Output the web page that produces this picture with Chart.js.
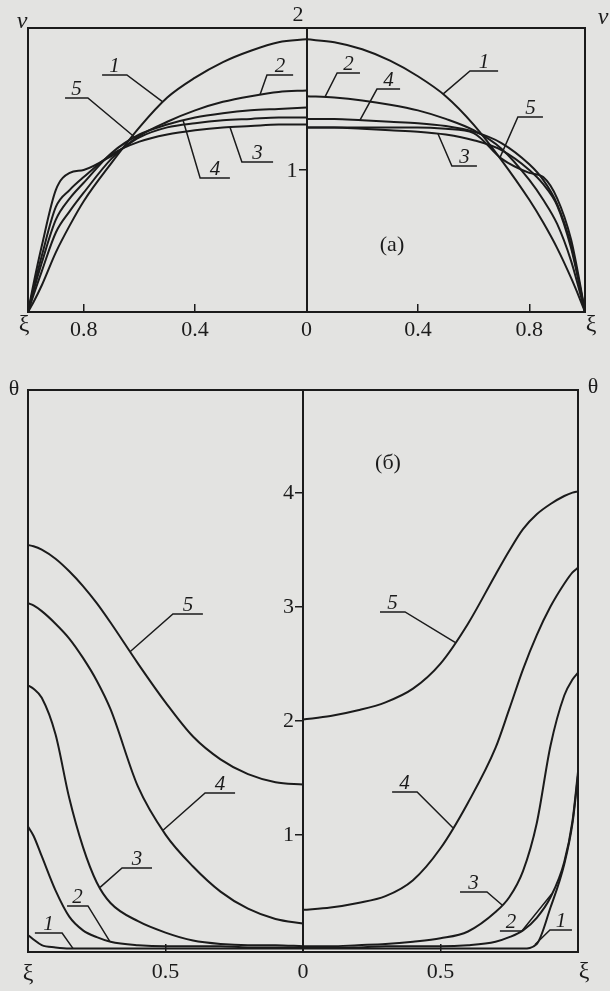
<!DOCTYPE html>
<html>
<head>
<meta charset="utf-8">
<script src="https://cdn.jsdelivr.net/npm/chart.js"></script>
<style>
  html, body { margin: 0; padding: 0; background: #e3e3e1; }
  #wrap { position: relative; width: 610px; height: 991px; overflow: hidden; }
  canvas { position: absolute; left: 0; }
  #chartA { top: 0; }
  #chartB { top: 345px; }
</style>
</head>
<body>
<div id="wrap">
  <canvas id="chartA" width="610" height="345"></canvas>
  <canvas id="chartB" width="610" height="646"></canvas>
</div>
<script>
const ink = '#1b1b1b';
const serif = '"Liberation Serif", "DejaVu Serif", serif';

// (a) profiles v(xi), left half (L) and right half (R) of the channel
const xiA = [0, 0.1, 0.2, 0.3, 0.4, 0.5, 0.6, 0.7, 0.8, 0.85, 0.9, 0.95, 0.98, 1];
const vL1 = [1.92, 1.90, 1.84, 1.76, 1.65, 1.51, 1.30, 1.05, 0.78, 0.61, 0.42, 0.19, 0.07, 0];
const vL2 = [1.56, 1.55, 1.52, 1.48, 1.42, 1.34, 1.24, 1.08, 0.84, 0.71, 0.56, 0.29, 0.12, 0];
const vL3 = [1.32, 1.32, 1.31, 1.30, 1.28, 1.25, 1.20, 1.11, 0.95, 0.86, 0.74, 0.40, 0.17, 0];
const vL4 = [1.44, 1.43, 1.42, 1.40, 1.37, 1.32, 1.25, 1.12, 0.91, 0.80, 0.65, 0.35, 0.15, 0];
const vL5 = [1.37, 1.37, 1.36, 1.35, 1.33, 1.30, 1.23, 1.10, 1.00, 0.98, 0.86, 0.47, 0.20, 0];
const vR1 = [1.92, 1.90, 1.85, 1.77, 1.66, 1.52, 1.32, 1.07, 0.79, 0.63, 0.45, 0.24, 0.10, 0];
const vR2 = [1.52, 1.51, 1.49, 1.46, 1.42, 1.36, 1.28, 1.15, 0.93, 0.79, 0.62, 0.36, 0.15, 0];
const vR3 = [1.30, 1.30, 1.29, 1.28, 1.27, 1.25, 1.21, 1.14, 1.00, 0.90, 0.75, 0.45, 0.19, 0];
const vR4 = [1.36, 1.36, 1.35, 1.34, 1.33, 1.31, 1.27, 1.19, 1.04, 0.93, 0.76, 0.47, 0.20, 0];
const vR5 = [1.30, 1.30, 1.30, 1.30, 1.30, 1.29, 1.26, 1.08, 0.98, 0.95, 0.80, 0.51, 0.22, 0];
const xiTicksA = [-0.8, -0.4, 0, 0.4, 0.8];
const vTicks = [1];

// (б) profiles theta(xi)
const xiB = [0, 0.1, 0.2, 0.3, 0.4, 0.5, 0.6, 0.7, 0.75, 0.8, 0.85, 0.9, 0.95, 0.98, 1];
const thL1 = [0, 0, 0, 0, 0, 0, 0, 0, 0, 0, 0, 0.01, 0.03, 0.08, 0.12];
const thL2 = [0.01, 0.01, 0.01, 0.02, 0.02, 0.02, 0.03, 0.06, 0.10, 0.16, 0.28, 0.51, 0.81, 0.99, 1.07];
const thL3 = [0.02, 0.03, 0.03, 0.04, 0.07, 0.14, 0.24, 0.40, 0.58, 0.89, 1.32, 1.88, 2.20, 2.28, 2.31];
const thL4 = [0.22, 0.26, 0.35, 0.50, 0.72, 1.00, 1.42, 2.10, 2.35, 2.55, 2.72, 2.85, 2.96, 3.01, 3.03];
const thL5 = [1.44, 1.46, 1.53, 1.66, 1.86, 2.16, 2.50, 2.86, 3.03, 3.18, 3.31, 3.42, 3.50, 3.53, 3.54];
const thR1 = [0, 0, 0, 0, 0, 0, 0, 0, 0, 0, 0.04, 0.36, 0.74, 1.10, 1.52];
const thR2 = [0.01, 0.01, 0.01, 0.02, 0.02, 0.02, 0.03, 0.06, 0.10, 0.16, 0.27, 0.45, 0.76, 1.12, 1.55];
const thR3 = [0.02, 0.02, 0.03, 0.04, 0.06, 0.09, 0.15, 0.32, 0.45, 0.68, 1.10, 1.78, 2.22, 2.36, 2.42];
const thR4 = [0.34, 0.36, 0.40, 0.46, 0.60, 0.88, 1.28, 1.76, 2.10, 2.45, 2.75, 3.00, 3.20, 3.30, 3.34];
const thR5 = [2.01, 2.04, 2.09, 2.16, 2.28, 2.50, 2.85, 3.28, 3.49, 3.68, 3.81, 3.90, 3.97, 4.00, 4.01];
const xiTicksB = [-0.5, 0, 0.5];
const thTicks = [1, 2, 3, 4];

// curve labels: text, xi where leader starts, xi of other end of the bar, bar height, xi on curve, curve
const labelsA = [
  ['1', -0.645, -0.734, 1.669, -0.515, 'L1'],
  ['5', -0.785, -0.867, 1.507, -0.609, 'L5'],
  ['2', -0.142, -0.048, 1.669, -0.167, 'L2'],
  ['4', -0.382, -0.275, 0.944, -0.443, 'L4'],
  ['3', -0.232, -0.120, 1.056, -0.275, 'L3'],
  ['2', 0.110, 0.192, 1.683, 0.066, 'R2'],
  ['4', 0.253, 0.336, 1.570, 0.192, 'R4'],
  ['1', 0.587, 0.688, 1.697, 0.490, 'R1'],
  ['5', 0.759, 0.849, 1.373, 0.695, 'R5'],
  ['3', 0.522, 0.612, 1.028, 0.472, 'R3']
];
const labelsB = [
  ['5', -0.473, -0.364, 2.935, -0.629, 'L5'],
  ['4', -0.356, -0.247, 1.365, -0.509, 'L4'],
  ['3', -0.658, -0.549, 0.707, -0.738, 'L3'],
  ['2', -0.782, -0.858, 0.374, -0.702, 'L2'],
  ['1', -0.876, -0.975, 0.137, -0.836, 'L1'],
  ['5', 0.371, 0.280, 2.953, 0.553, 'R5'],
  ['4', 0.415, 0.324, 1.374, 0.545, 'R4'],
  ['3', 0.669, 0.571, 0.497, 0.724, 'R3'],
  ['2', 0.796, 0.716, 0.154, 0.905, 'R2'],
  ['1', 0.898, 0.978, 0.163, 0.844, 'R1']
];

function pts(grid, vals, sign) {
  return grid.map((g, i) => ({ x: sign * g, y: vals[i] }));
}

function interp(grid, vals, x) {
  const a = Math.abs(x);
  for (let i = 1; i < grid.length; i++) {
    if (a <= grid[i]) {
      const t = (a - grid[i - 1]) / (grid[i] - grid[i - 1]);
      return vals[i - 1] + t * (vals[i] - vals[i - 1]);
    }
  }
  return vals[vals.length - 1];
}

const decor = {
  id: 'decor',
  afterDatasetsDraw(chart, args, o) {
    const { ctx, chartArea: a, scales: { x, y } } = chart;
    ctx.save();
    ctx.strokeStyle = ink;
    ctx.fillStyle = ink;
    ctx.lineWidth = 2;
    ctx.strokeRect(a.left, a.top, a.right - a.left, a.bottom - a.top);

    // labels for the y ticks, left of the centre axis
    const ax = x.getPixelForValue(0);
    ctx.font = '22px ' + serif;
    ctx.textAlign = 'right';
    ctx.textBaseline = 'middle';
    y.ticks.forEach(t => ctx.fillText(String(t.value), ax - 9, y.getPixelForValue(t.value) + 1));

    // labels with leaders
    ctx.lineWidth = 1.5;
    ctx.font = 'italic 21px ' + serif;
    ctx.textAlign = 'center';
    ctx.textBaseline = 'alphabetic';
    o.labels.forEach(([t, xa, xb, yl, xt, key]) => {
      const p1 = x.getPixelForValue(xa);
      const p2 = x.getPixelForValue(xb);
      const py = y.getPixelForValue(yl);
      const tx = x.getPixelForValue(xt);
      const ty = y.getPixelForValue(interp(o.grid, o.curves[key], xt));
      ctx.beginPath();
      ctx.moveTo(p2, py);
      ctx.lineTo(p1, py);
      ctx.lineTo(tx, ty);
      ctx.stroke();
      ctx.fillText(t, (p1 + p2) / 2, py - 3);
    });

    // panel mark, placed in data units
    ctx.font = '22px ' + serif;
    ctx.textBaseline = 'middle';
    ctx.fillText(o.mark[0], x.getPixelForValue(o.mark[1]), y.getPixelForValue(o.mark[2]));

    // axis letters, pixel offsets
    o.texts.forEach(([t, px, py, font]) => {
      ctx.font = font;
      ctx.fillText(t, px, py);
    });
    ctx.restore();
  }
};

function makeChart(id, grid, curves, cfg) {
  const datasets = Object.keys(curves).map(k => ({
    label: k,
    data: pts(grid, curves[k], k[0] === 'L' ? -1 : 1),
    borderColor: ink,
    borderWidth: 2,
    pointRadius: 0,
    fill: false,
    cubicInterpolationMode: 'monotone'
  }));
  return new Chart(document.getElementById(id), {
    type: 'line',
    data: { datasets },
    plugins: [decor],
    options: {
      responsive: false,
      animation: false,
      layout: { padding: cfg.pad },
      plugins: {
        legend: { display: false },
        tooltip: { enabled: false },
        decor: { labels: cfg.labels, grid, curves, mark: cfg.mark, texts: cfg.texts }
      },
      scales: {
        x: {
          type: 'linear', min: -1, max: 1,
          afterBuildTicks: s => { s.ticks = cfg.xTicks.map(v => ({ value: v })); },
          afterFit: s => { s.height = cfg.xh; },
          grid: { drawOnChartArea: false, drawTicks: true, tickLength: -8, color: ink, lineWidth: 1.5 },
          border: { color: ink, width: 2 },
          ticks: {
            color: ink, font: { family: serif, size: 22 }, padding: cfg.xpad,
            maxRotation: 0, autoSkip: false,
            callback: v => String(Math.abs(v))
          }
        },
        y: {
          type: 'linear', min: cfg.yMin, max: cfg.yMax, position: { x: 0 },
          afterBuildTicks: s => { s.ticks = cfg.yTicks.map(v => ({ value: v })); },
          grid: { drawOnChartArea: false, tickLength: 7, color: ink, lineWidth: 1.5 },
          border: { color: ink, width: 2 },
          ticks: { display: false }
        }
      }
    }
  });
}

makeChart('chartA', xiA,
  { L1: vL1, L2: vL2, L3: vL3, L4: vL4, L5: vL5, R1: vR1, R2: vR2, R3: vR3, R4: vR4, R5: vR5 },
  {
    pad: { top: 28, left: 28, right: 25, bottom: 0 }, xh: 33, xpad: 13,
    xTicks: xiTicksA, yTicks: vTicks, yMin: 0, yMax: 2,
    labels: labelsA,
    mark: ['(a)', 0.307, 0.47],
    texts: [
      ['v', 22, 22, 'italic 24px ' + serif],
      ['v', 603, 18, 'italic 24px ' + serif],
      ['2', 298, 15, '22px ' + serif],
      ['ξ', 24, 325, '24px ' + serif],
      ['ξ', 591, 325, '24px ' + serif]
    ]
  });

makeChart('chartB', xiB,
  { L1: thL1, L2: thL2, L3: thL3, L4: thL4, L5: thL5, R1: thR1, R2: thR2, R3: thR3, R4: thR4, R5: thR5 },
  {
    pad: { top: 45, left: 28, right: 32, bottom: 0 }, xh: 39, xpad: 15,
    xTicks: xiTicksB, yTicks: thTicks, yMin: -0.03, yMax: 4.9,
    labels: labelsB,
    mark: ['(б)', 0.309, 4.26],
    texts: [
      ['θ', 14, 44, '22px ' + serif],
      ['θ', 593, 42, '22px ' + serif],
      ['ξ', 28, 629, '24px ' + serif],
      ['ξ', 584, 627, '24px ' + serif]
    ]
  });
</script>
</body>
</html>
